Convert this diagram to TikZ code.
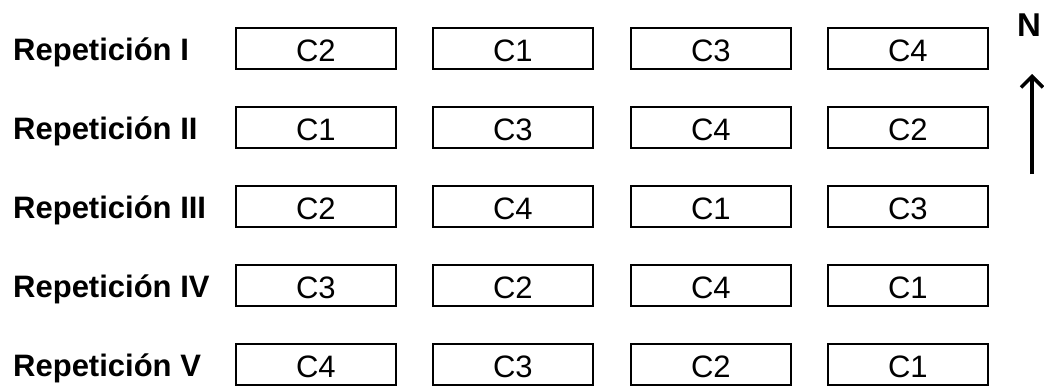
\documentclass[tikz,border=0pt]{standalone}
\usepackage{fontspec}
\setmainfont{Liberation Sans}
\usetikzlibrary{arrows.meta}
\begin{document}
\begin{tikzpicture}[x=1pt,y=-1pt,
  cell/.style={draw=black, line width=1.8pt, minimum width=160pt, minimum height=41pt, inner sep=0pt, anchor=north west},
  celltext/.style={inner sep=0pt, font=\fontsize{31}{33}\selectfont},
  replabel/.style={anchor=base west, inner sep=0pt, font=\fontsize{31}{33}\selectfont\bfseries},
  north/.style={line width=3.5pt, -{Straight Barb[length=11pt,width=22pt,line width=3.5pt]}}]
\useasboundingbox (0,0) rectangle (1044,386);
\def\rowtops{{27,106,185,264,343}}
% row labels
\foreach \i/\lab in {0/I,1/II,2/III,3/IV,4/V}{
  \pgfmathsetmacro{\yt}{\rowtops[\i]+33}
  \node[replabel] (lab\i) at (13,\yt) {Repetición \lab};
}
% cells
\foreach \i/\a/\b/\c/\d in {0/C2/C1/C3/C4,1/C1/C3/C4/C2,2/C2/C4/C1/C3,3/C3/C2/C4/C1,4/C4/C3/C2/C1}{
  \pgfmathsetmacro{\yt}{\rowtops[\i]}
  \node[cell] (r\i c1) at (235,\yt) {};
  \node[cell] (r\i c2) at (432,\yt) {};
  \node[cell] (r\i c3) at (630,\yt) {};
  \node[cell] (r\i c4) at (827,\yt) {};
  \node[celltext] (t\i c1) at ([yshift=-2pt]r\i c1.center) {\a};
  \node[celltext] (t\i c2) at ([yshift=-2pt]r\i c2.center) {\b};
  \node[celltext] (t\i c3) at ([yshift=-2pt]r\i c3.center) {\c};
  \node[celltext] (t\i c4) at ([yshift=-2pt]r\i c4.center) {\d};
}
% north arrow
\node[inner sep=0pt, font=\fontsize{33}{34}\selectfont\bfseries] (N) at (1029,25) {N};
\coordinate (atail) at (1032,174);
\coordinate (ahead) at (1032,74);
\draw[north, black!25, shift={(1.5pt,-1.5pt)}] (atail) -- (ahead);
\draw[north] (atail) -- (ahead);
\end{tikzpicture}
\end{document}
